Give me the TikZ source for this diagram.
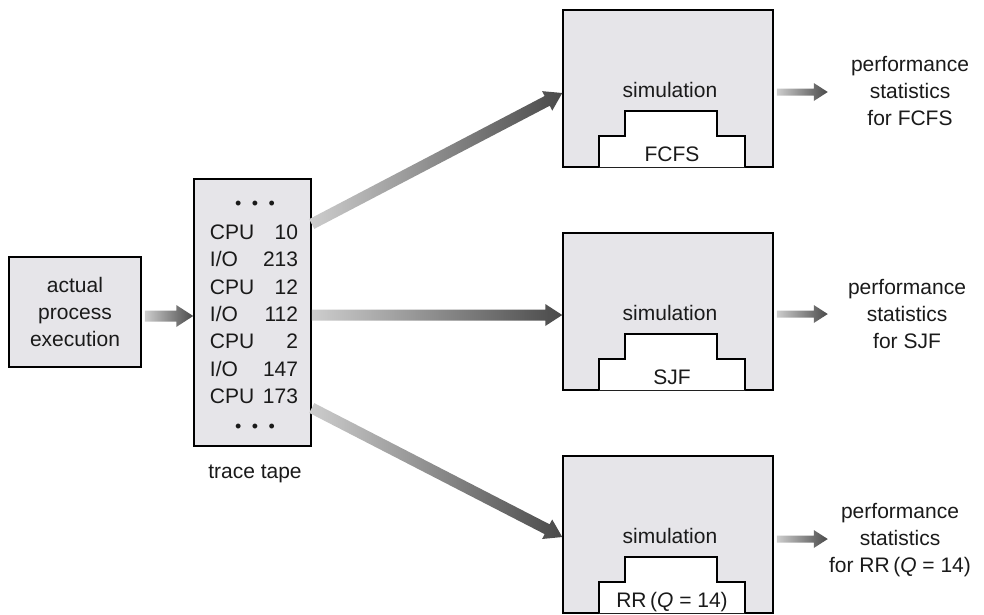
\documentclass[tikz,border=0pt]{standalone}
\usepackage{fontspec}
\setmainfont{Liberation Sans}
\usetikzlibrary{calc}
\definecolor{boxfill}{HTML}{E6E5E9}
\definecolor{txt}{HTML}{1A1A1A}
\definecolor{arrowdark}{HTML}{4A4A4A}
\definecolor{arrowlight}{HTML}{CDCDCD}
% gradient arrow: start, end, shaft half width, head half width, head length
\newcommand\gradarrow[5]{%
  \path let \p1=($(#2)-(#1)$), \n1={atan2(\y1,\x1)}, \n2={veclen(\x1,\y1)} in
    \pgfextra{\xdef\gaang{\n1}\xdef\galen{\n2}};
  \begin{scope}[shift={(#1)}, rotate=\gaang]
    \shade[left color=arrowlight, right color=arrowdark]
      (0,-#3) -- (\galen-#5,-#3) -- (\galen-#5,-#4) -- (\galen,0)
      -- (\galen-#5,#4) -- (\galen-#5,#3) -- (0,#3) -- cycle;
  \end{scope}}
\begin{document}
\begin{tikzpicture}[x=1pt,y=-1pt,
  font=\fontsize{21}{27}\selectfont, text=txt,
  box/.style={draw=black, line width=1.5pt, fill=boxfill, inner sep=0pt},
  stair/.style={draw=black, line width=1.5pt, fill=white},
  plain/.style={inner sep=0pt, align=center},
  dots/.style={inner sep=0pt, font=\fontsize{18}{18}\selectfont}]
\useasboundingbox (0,0) rectangle (984,614);

% actual process execution
\node[box, minimum width=132pt, minimum height=110pt, align=center] (act) at (75,312)
  {actual\\process\\execution};

% trace tape
\node[box, minimum width=117pt, minimum height=267pt] (tape) at (252.5,312.5) {};
\node[plain, font=\fontsize{21}{27.3}\selectfont] (rows) at (254,316)
  {\begin{tabular}{@{}l@{\hspace{8.7pt}}r@{}}
   CPU & 10\\ I/O & 213\\ CPU & 12\\ I/O & 112\\ CPU & 2\\ I/O & 147\\ CPU & 173
   \end{tabular}};
\node[dots] (dtop) at (255,205) {•\hspace{10.5pt}•\hspace{10.5pt}•};
\node[dots] (dbot) at (255,428) {•\hspace{10.5pt}•\hspace{10.5pt}•};
\node[plain] (tapelbl) at (255,474) {trace tape};

% simulation boxes
\foreach \yt/\nm/\lab in {10/sim1/FCFS, 233/sim2/SJF, 456/sim3/{RR\,(\textit{Q} = 14)}}{
  \node[box, minimum width=210pt, minimum height=157pt] (\nm) at (668,\yt+78.5) {};
  \node[plain, anchor=base] (\nm-t) at (670,\yt+87) {simulation};
  \draw[stair] (599,\yt+157) -- (599,\yt+126) -- (625,\yt+126) -- (625,\yt+101)
    -- (717,\yt+101) -- (717,\yt+126) -- (745,\yt+126) -- (745,\yt+157);
  \node[plain, anchor=base] (\nm-q) at (672,\yt+151) {\lab};
}

% statistics
\node[plain] (st1) at (910,91) {performance\\statistics\\for FCFS};
\node[plain] (st2) at (907,314) {performance\\statistics\\for SJF};
\node[plain] (st3) at (900,540) {performance\\statistics\\for RR\,(\textit{Q} = 14)};

% connector end points
\coordinate (a1) at ($(act.east)+(3,4)$);
\coordinate (a2) at (tape.west |- a1);
\coordinate (t1) at (tape.east |- 0,224);
\coordinate (t2) at (tape.east |- 0,315);
\coordinate (t3) at (tape.east |- 0,408);
\coordinate (s1) at (sim1.west |- 0,93);
\coordinate (s2) at (sim2.west |- 0,315);
\coordinate (s3) at (sim3.west |- 0,537);
\coordinate (o1s) at ($(sim1.east |- 0,92)+(3,0)$);
\coordinate (o2s) at ($(sim2.east |- 0,314)+(3,0)$);
\coordinate (o3s) at ($(sim3.east |- 0,539)+(3,0)$);
\coordinate (o1e) at ($(o1s)+(51,0)$);
\coordinate (o2e) at ($(o2s)+(51,0)$);
\coordinate (o3e) at ($(o3s)+(51,0)$);

% arrows
\gradarrow{a1}{a2}{5.5}{11}{17}
\gradarrow{t1}{s1}{5.5}{11}{17}
\gradarrow{t2}{s2}{5.5}{11}{17}
\gradarrow{t3}{s3}{5.5}{11}{17}
\gradarrow{o1s}{o1e}{3.5}{9}{14}
\gradarrow{o2s}{o2e}{3.5}{9}{14}
\gradarrow{o3s}{o3e}{3.5}{9}{14}
\end{tikzpicture}
\end{document}
